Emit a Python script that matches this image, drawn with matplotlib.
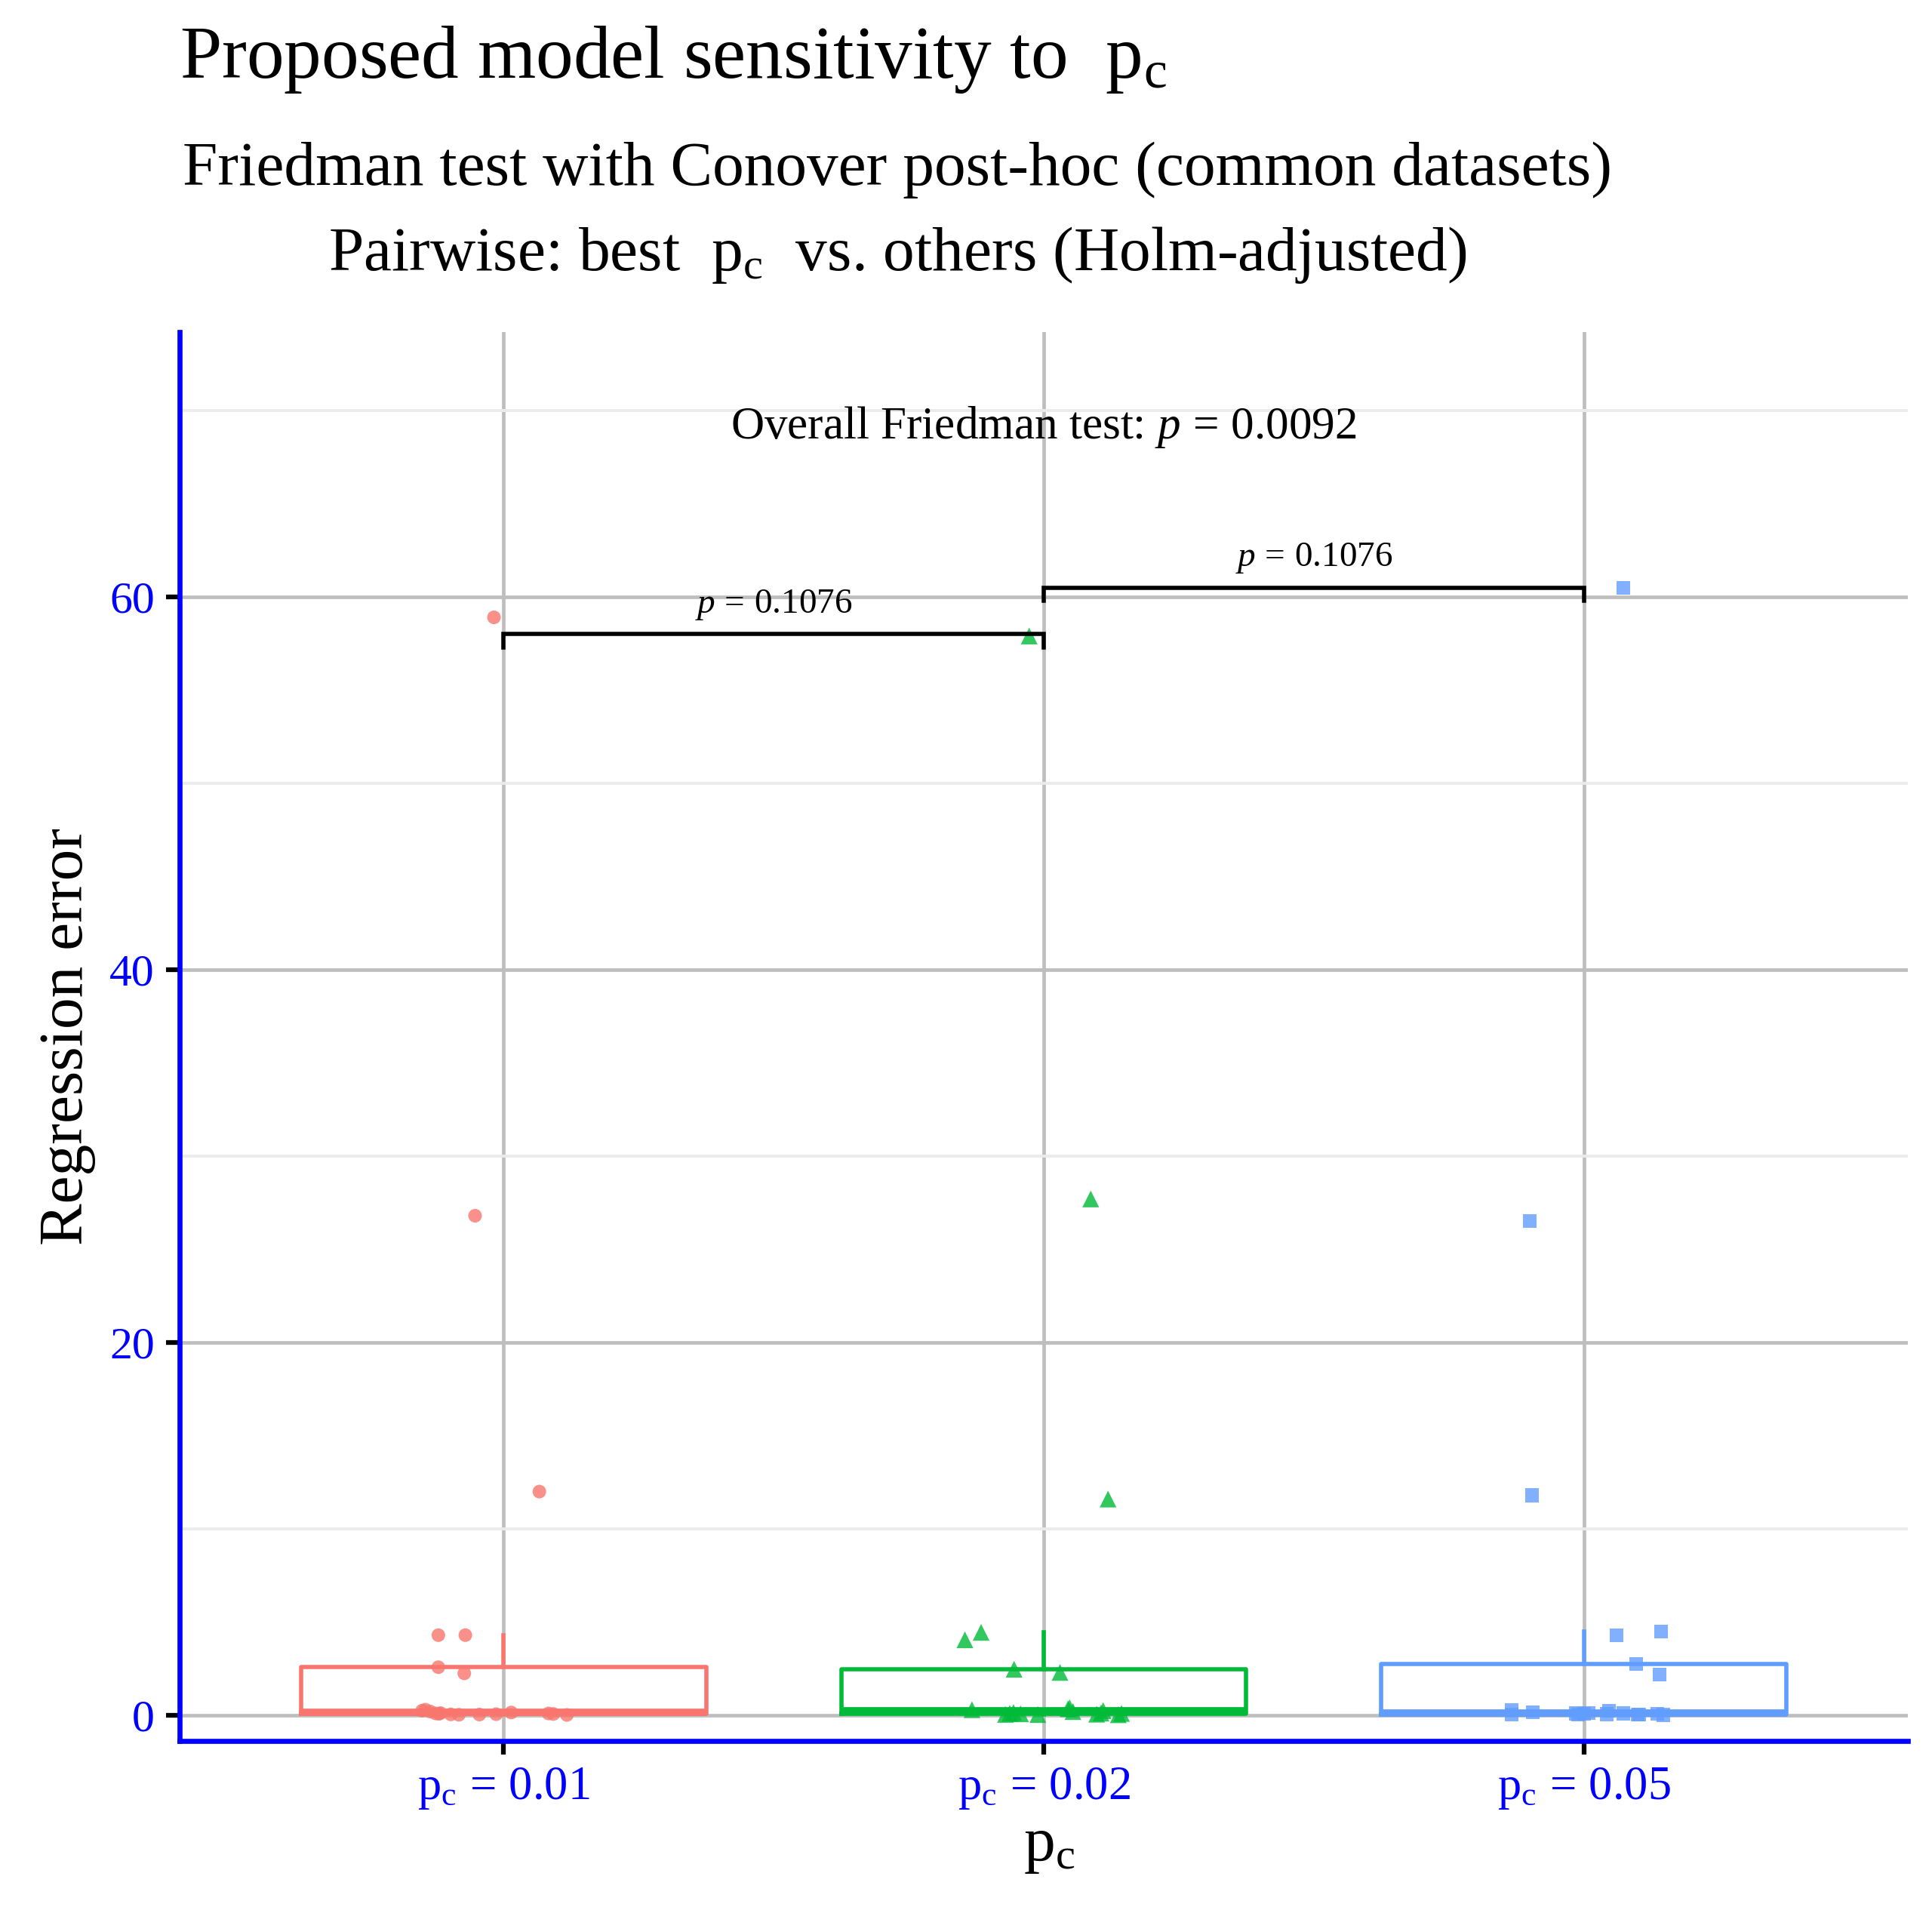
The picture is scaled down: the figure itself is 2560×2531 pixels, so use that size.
import matplotlib
matplotlib.use("Agg")
import matplotlib.pyplot as plt
import numpy as np

# p_c levels on the x axis
pc_levels = ["0.01", "0.02", "0.05"]
box_colors = ["#F8766D", "#00BA38", "#619CFF"]
markers = ["o", "^", "s"]

# regression error per dataset
err_001 = [58.9, 26.8, 12.0, 4.3, 4.3, 2.58, 2.25,
           0.25, 0.30, 0.20, 0.10, 0.08, 0.12, 0.05, 0.03, 0.04, 0.06, 0.15, 0.10, 0.07, 0.02]
err_002 = [57.9, 27.7, 11.6, 4.45, 4.05, 2.47, 2.30,
           0.30, 0.05, 0.10, 0.15, 0.08, 0.04, 0.35, 0.40, 0.20, 0.06, 0.12, 0.25, 0.03, 0.10]
err_005 = [60.5, 26.5, 11.8, 4.3, 4.5, 2.75, 2.2,
           0.30, 0.05, 0.15, 0.10, 0.04, 0.08, 0.12, 0.06, 0.25, 0.10, 0.03, 0.05, 0.07, 0.02]

# horizontal jitter of each point (fraction of category spacing)
jit_001 = [-0.018, -0.053, 0.066, -0.121, -0.071, -0.121, -0.073,
           -0.151, -0.145, -0.136, -0.126, -0.120, -0.117, -0.098, -0.083, -0.045, -0.014, 0.014, 0.083, 0.092, 0.117]
jit_002 = [-0.027, 0.087, 0.119, -0.116, -0.146, -0.055, 0.030,
           -0.133, -0.071, -0.063, -0.056, -0.043, -0.011, 0.045, 0.048, 0.054, 0.098, 0.106, 0.110, 0.138, 0.144]
jit_005 = [0.073, -0.100, -0.096, 0.060, 0.143, 0.097, 0.140,
           -0.134, -0.134, -0.094, -0.015, -0.011, 0.001, 0.009, 0.042, 0.047, 0.073, 0.100, 0.103, 0.136, 0.147]

# pairwise comparison brackets
bracket_pairs = [(1, 2), (2, 3)]
bracket_y = [58.0, 60.5]
bracket_labels = ["0.1076", "0.1076"]
overall_p = "0.0092"

plt.rcParams["font.family"] = ["Liberation Serif", "DejaVu Serif"]
plt.rcParams["mathtext.fontset"] = "custom"
plt.rcParams["mathtext.rm"] = "Liberation Serif"
plt.rcParams["mathtext.it"] = "Liberation Serif:italic"

fig = plt.figure(figsize=(25.6, 25.31), dpi=100)
ax = fig.add_axes([0.093, 0.0885, 0.8945, 0.7377])

data = [err_001, err_002, err_005]
jits = [jit_001, jit_002, jit_005]

bp = ax.boxplot(data, positions=[1, 2, 3], widths=0.75, showfliers=False,
                showcaps=False, whis=1.5, patch_artist=False)
for i, c in enumerate(box_colors):
    bp["boxes"][i].set(color=c, linewidth=4.0, zorder=2)
    bp["medians"][i].set(color=c, linewidth=7.0, zorder=2)
    for w in bp["whiskers"][2 * i:2 * i + 2]:
        w.set(color=c, linewidth=4.0, zorder=2)

for i in range(3):
    x = np.array(jits[i]) + (i + 1)
    ax.scatter(x, data[i], marker=markers[i], s=[169, 256, 169][i],
               color=box_colors[i], alpha=0.8, edgecolors="none", zorder=3)

ax.set_xlim(0.4, 3.6)
ax.set_ylim(-1.377, 74.21)

ax.set_yticks([0, 20, 40, 60])
ax.set_yticklabels(["0", "20", "40", "60"])
ax.set_yticks([10, 30, 50, 70], minor=True)
ax.set_xticks([1, 2, 3])
ax.set_xticklabels([r"$\mathrm{p_c}\,=\,%s$" % v for v in pc_levels])

ax.grid(which="major", color="#BEBEBE", linewidth=3.4, zorder=0)
ax.grid(which="minor", axis="y", color="#EBEBEB", linewidth=2.8, zorder=0)
ax.grid(which="minor", axis="x", visible=False)
ax.set_axisbelow(True)

for s in ["top", "right"]:
    ax.spines[s].set_visible(False)
for s in ["left", "bottom"]:
    ax.spines[s].set_color("blue")
    ax.spines[s].set_linewidth(4.8)

ax.tick_params(which="major", length=13, width=4.5, color="black", labelcolor="blue",
               labelsize=43, pad=11)
ax.tick_params(axis="x", which="major", labelsize=45)
ax.tick_params(which="minor", length=0)

# brackets
for (a, b), yb, lab in zip(bracket_pairs, bracket_y, bracket_labels):
    ax.plot([a, a, b, b], [yb - 0.7, yb, yb, yb - 0.7], color="black",
            linewidth=4, zorder=4, solid_joinstyle="miter")
    ax.text((a + b) / 2, yb + 1.15, r"$p\,=\,%s$" % lab, ha="center",
            va="baseline", fontsize=34)

ax.text(2, 68.5, r"Overall Friedman test: $p\,=\,%s$" % overall_p, ha="center",
        va="baseline", fontsize=44)

fig.text(0.035, 0.4575, "Regression error", rotation=90, ha="center",
         va="center", fontsize=60)
fig.text(0.5432, 0.033, r"$\mathrm{p_c}$", ha="center", va="center", fontsize=60)

fig.text(0.093, 0.9593, r"Proposed model sensitivity to  $\mathrm{p_c}$",
         ha="left", va="baseline", fontsize=71.5)
fig.text(0.4645, 0.9032, "Friedman test with Conover post-hoc (common datasets)",
         ha="center", va="baseline", fontsize=60)
fig.text(0.4645, 0.8586, r"Pairwise: best  $\mathrm{p_c}$  vs. others (Holm-adjusted)",
         ha="center", va="baseline", fontsize=60)

fig.savefig("out.png", dpi=100)
